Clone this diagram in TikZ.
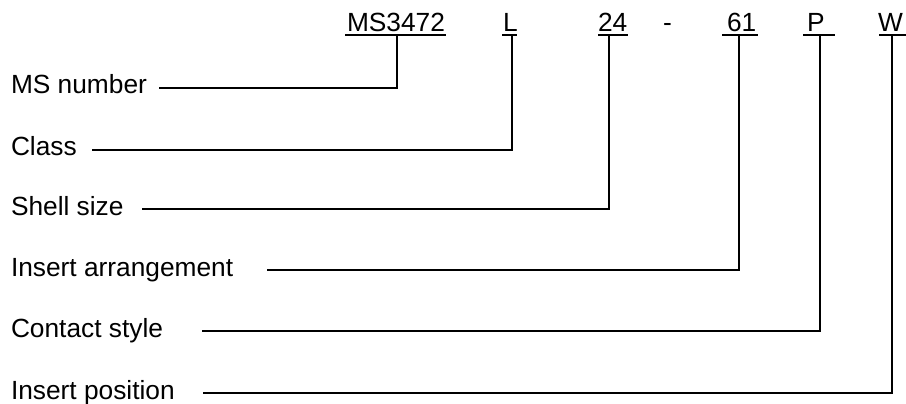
\documentclass[tikz,border=0pt]{standalone}
\usepackage{fontspec}
\setmainfont{Liberation Sans}
\begin{document}
\begin{tikzpicture}[x=1pt,y=-1pt,
  lbl/.style={anchor=base west,inner sep=0pt,outer sep=0pt,font=\fontsize{26.3}{30}\selectfont},
  conn/.style={line width=1.6pt,line cap=rect},
  uline/.style={line width=1.6pt}]
\useasboundingbox (0,0) rectangle (906,404);
% top code parts
\node[lbl] (tMS) at (347,32) {MS3472};
\node[lbl] (tL) at (503,32) {L};
\node[lbl] (t24) at (598,32) {24};
\node[lbl] (tdash) at (663,32) {-};
\node[lbl] (t61) at (727,32) {61};
\node[lbl] (tP) at (807,32) {P};
\node[lbl] (tW) at (878,32) {W};
% underlines
\draw[uline] (345,35) -- (446,35);
\draw[uline] (502,35) -- (517,35);
\draw[uline] (598,35) -- (628,35);
\draw[uline] (722,35) -- (758,35);
\draw[uline] (803,35) -- (835,35);
\draw[uline] (879,35) -- (906,35);
% attachment points on underlines
\coordinate (uMS) at (397,35);
\coordinate (uL) at (512,35);
\coordinate (u24) at (609,35);
\coordinate (u61) at (739,35);
\coordinate (uP) at (820,35);
\coordinate (uW) at (892,35);
% side labels
\node[lbl] (lMS) at (11,94) {MS number};
\node[lbl] (lCl) at (11,156) {Class};
\node[lbl] (lSh) at (11,215) {Shell size};
\node[lbl] (lIA) at (11,276) {Insert arrangement};
\node[lbl] (lCS) at (11,337) {Contact style};
\node[lbl] (lIP) at (11,399) {Insert position};
% line starts
\coordinate (sMS) at (160,88);
\coordinate (sCl) at (93,150);
\coordinate (sSh) at (143,209);
\coordinate (sIA) at (268,270);
\coordinate (sCS) at (203,331);
\coordinate (sIP) at (204,393);
% connectors
\draw[conn] (sMS) -| (uMS);
\draw[conn] (sCl) -| (uL);
\draw[conn] (sSh) -| (u24);
\draw[conn] (sIA) -| (u61);
\draw[conn] (sCS) -| (uP);
\draw[conn] (sIP) -| (uW);
\end{tikzpicture}
\end{document}
